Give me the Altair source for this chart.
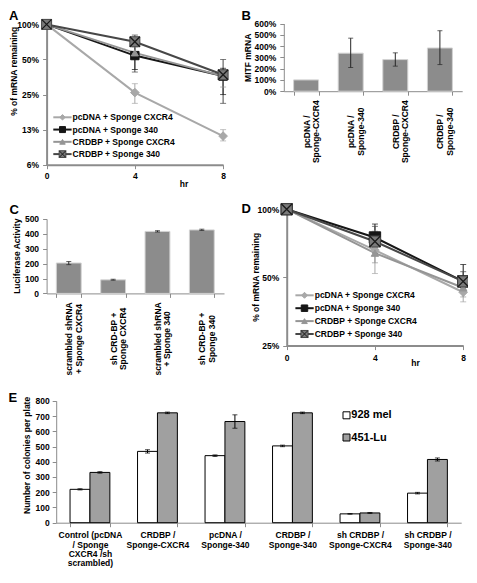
import altair as alt
import pandas as pd

FONT = "Liberation Sans"

# ---------------- Panels A / D : mRNA decay time courses ----------------
series = ["pcDNA + Sponge CXCR4", "pcDNA + Sponge 340",
          "CRDBP + Sponge CXCR4", "CRDBP + Sponge 340"]
hours = [0, 4, 8]

# Panel A values (% of mRNA remaining) and error-bar bounds
a_pcdna_cxcr4 = [100, 26, 11]
a_pcdna_340 = [100, 54, 36]
a_crdbp_cxcr4 = [100, 57, 36]
a_crdbp_340 = [100, 71, 37]
a_pcdna_cxcr4_lo = [None, 21, 10]
a_pcdna_cxcr4_hi = [None, 31, 12.5]
a_pcdna_340_lo = [None, 41, 25]
a_pcdna_340_hi = [None, 66, 42]
a_crdbp_cxcr4_lo = [None, 50, 29]
a_crdbp_cxcr4_hi = [None, 64, 40]
a_crdbp_340_lo = [None, 39, 21]
a_crdbp_340_hi = [None, 81, 50]

# Panel D values and error-bar bounds
d_pcdna_cxcr4 = [100, 66, 43]
d_pcdna_340 = [100, 75, 48]
d_crdbp_cxcr4 = [100, 64, 45]
d_crdbp_340 = [100, 72, 48]
d_pcdna_cxcr4_lo = [None, 52, 39]
d_pcdna_cxcr4_hi = [None, 80, 47]
d_pcdna_340_lo = [None, 68, 45]
d_pcdna_340_hi = [None, 86, 57]
d_crdbp_cxcr4_lo = [None, 58, 41]
d_crdbp_cxcr4_hi = [None, 70, 49]
d_crdbp_340_lo = [None, 64, 44]
d_crdbp_340_hi = [None, 84, 53]

# ---------------- Panel B : MITF mRNA ----------------
b_categories = ["pcDNA /|Sponge-CXCR4", "pcDNA /|Sponge-340",
                "CRDBP /|Sponge-CXCR4", "CRDBP /|Sponge-340"]
b_values = [100, 337, 280, 383]
b_err_lo = [None, 210, 222, 236]
b_err_hi = [None, 470, 340, 536]

# ---------------- Panel C : Luciferase ----------------
c_categories = ["scrambled shRNA|+ Sponge CXCR4", "sh CRD-BP +|Sponge CXCR4",
                "scrambled shRNA|+ Sponge 340", "sh CRD-BP +|Sponge 340"]
c_values = [204, 91, 416, 426]
c_err_lo = [193, 88, 412, 422]
c_err_hi = [214, 95, 421, 431]

# ---------------- Panel E : colonies ----------------
e_groups = ["Control (pcDNA|/ Sponge|CXCR4 /sh|scrambled)", "CRDBP /|Sponge-CXCR4",
            "pcDNA /|Sponge-340", "CRDBP /|Sponge-340",
            "sh CRDBP /|Sponge-CXCR4", "sh CRDBP /|Sponge-340"]
e_lines = ["928 mel", "451-Lu"]
e_928 = [219, 468, 440, 504, 58, 194]
e_451 = [330, 721, 664, 721, 64, 415]
e_928_err = [4, 11, 5, 5, 2, 5]
e_451_err = [5, 5, 44, 5, 3, 10]

# ---------------- styles / layout ----------------
colors = ["#a8a8a8", "#161616", "#959595", "#474747"]
fills = ["#a8a8a8", "#161616", "#959595", "#7a7a7a"]
shapes = ["diamond", "square", "triangle-up", "square"]
XPATH = "M-1,-1L1,1M1,-1L-1,1"
AXIS_GREY = "#8c8c8c"
LBL = 8.5
W, H = 460, 564
SX, SY = W / 477, H / 583


def cx(v):
    return round(v * SX, 1)


def cy(v):
    return round(v * SY, 1)


def tc_frame(vals, los, his):
    rows = []
    for s, v, lo, hi in zip(series, vals, los, his):
        for t, y, l, u in zip(hours, v, lo, hi):
            rows.append({"series": s, "hr": t, "pct": y, "lo": l, "hi": u})
    return pd.DataFrame(rows)


def letter_layer(letter, x, y):
    return alt.Chart(pd.DataFrame({"t": [letter]})).mark_text(
        align="left", baseline="alphabetic", fontSize=13, fontWeight="bold",
        font=FONT, color="black").encode(x=alt.value(cx(x)), y=alt.value(cy(y)), text="t:N")


def timecourse(df, rect, ydom, yvals, msz, lsz, leg_rows, leg_x, ttl, hr,
               letter, let_xy, xlabpad):
    x0, x1, yt, yb = rect
    color = alt.Color("series:N", scale=alt.Scale(domain=series, range=colors), legend=None)
    xaxis = alt.Axis(orient="bottom", offset=cy(yb) - H, values=hours, format="d",
                     labelFlush=False, tickSize=4, labelPadding=xlabpad, domainWidth=2,
                     title="hr", titleX=cx(hr[0]), titleY=hr[1], titleAlign="center",
                     titleBaseline="alphabetic", titleAnchor="start")
    xs = alt.Scale(domain=[0, 8], nice=False, zero=False, range=[cx(x0), cx(x1)])
    ys = alt.Scale(type="log", base=2, domain=ydom, nice=False, range=[cy(yb), cy(yt)])
    yaxis = alt.Axis(orient="left", offset=-cx(x0), values=yvals,
                     labelExpr="format(datum.value, '.0f') + '%'",
                     labelOverlap=False, tickSize=4, labelPadding=4, domainWidth=2,
                     title="% of mRNA remaining", titleX=ttl[0], titleY=cy(ttl[1]),
                     titleAngle=270, titleAlign="center", titleBaseline="middle")

    def X():
        return alt.X("hr:Q", scale=xs, axis=xaxis)

    def Y(f):
        return alt.Y(f, scale=ys, axis=yaxis)

    base = alt.Chart(df)
    lines = base.mark_line(strokeWidth=2).encode(x=X(), y=Y("pct:Q"), color=color)
    errs = base.transform_filter("isValid(datum.lo)")
    err_rule = errs.mark_rule(strokeWidth=1).encode(x=X(), y=Y("lo:Q"), y2="hi:Q", color=color)
    cap_lo = errs.mark_tick(orient="horizontal", size=6, thickness=1).encode(
        x=X(), y=Y("lo:Q"), color=color)
    cap_hi = errs.mark_tick(orient="horizontal", size=6, thickness=1).encode(
        x=X(), y=Y("hi:Q"), color=color)
    pts = []
    for s, shp, f, c, sz in zip(series, shapes, fills, colors, msz):
        pts.append(base.transform_filter(alt.datum.series == s).mark_point(
            shape=shp, filled=True, fill=f, stroke=c, strokeWidth=1, size=sz,
            opacity=1).encode(x=X(), y=Y("pct:Q")))
    xo = base.transform_filter(alt.datum.series == series[3]).mark_point(
        shape=XPATH, filled=False, stroke="#1a1a1a", strokeWidth=1.3, size=msz[3],
        opacity=1).encode(x=X(), y=Y("pct:Q"))
    main = alt.layer(lines, err_rule, cap_lo, cap_hi, *pts, xo)

    # in-plot legend
    ldf = pd.DataFrame({"series": series})
    ly = alt.Y("series:N", scale=alt.Scale(type="point", domain=series,
                                           range=[cy(leg_rows[0]), cy(leg_rows[1])],
                                           padding=0), axis=None)
    lb = alt.Chart(ldf)
    lrule = lb.mark_rule(strokeWidth=2).encode(
        x=alt.value(cx(leg_x)), x2=alt.value(cx(leg_x + 19)), y=ly, color=color)
    lpts = []
    for s, shp, f, c, sz in zip(series, shapes, fills, colors, lsz):
        lpts.append(lb.transform_filter(alt.datum.series == s).mark_point(
            shape=shp, filled=True, fill=f, stroke=c, strokeWidth=1, size=sz,
            opacity=1).encode(x=alt.value(cx(leg_x + 9.5)), y=ly))
    lxo = lb.transform_filter(alt.datum.series == series[3]).mark_point(
        shape=XPATH, filled=False, stroke="#1a1a1a", strokeWidth=1, size=lsz[3],
        opacity=1).encode(x=alt.value(cx(leg_x + 9.5)), y=ly)
    ltext = lb.mark_text(align="left", baseline="middle", fontSize=LBL, fontWeight="bold",
                         font=FONT, color="black").encode(
        x=alt.value(cx(leg_x + 20)), y=ly, text="series:N")
    legend = alt.layer(lrule, *lpts, lxo, ltext, letter_layer(letter, *let_xy))
    return alt.layer(main, legend).resolve_scale(y="independent")


def bar_panel(cats, vals, lo, hi, rect, ydom, ystep, ytitle, ttl, suffix,
              labpad, letter, let_xy):
    x0, x1, yt, yb = rect
    df = pd.DataFrame({"cat": cats, "val": vals, "lo": lo, "hi": hi})
    xax = alt.Axis(orient="bottom", offset=cy(yb) - H, title=None,
                   labelExpr="split(datum.label, '|')", labelAngle=270,
                   labelAlign="center", labelBaseline="middle", labelPadding=labpad,
                   labelLineHeight=9.5, tickBand="extent", tickSize=4, domainWidth=1)
    x = alt.X("cat:N", sort=cats, axis=xax,
              scale=alt.Scale(paddingInner=0.44, paddingOuter=0.22, range=[cx(x0), cx(x1)]))
    lexpr = "datum.value + '%'" if suffix else "datum.value"
    yax = alt.Axis(orient="left", offset=-cx(x0),
                   values=list(range(ydom[0], ydom[1] + 1, ystep)), labelExpr=lexpr,
                   tickSize=4, labelPadding=4, title=ytitle, titleX=ttl[0],
                   titleY=cy(ttl[1]), titleAngle=270, titleAlign="center",
                   titleBaseline="middle", domainWidth=1)
    ys = alt.Scale(domain=list(ydom), nice=False, range=[cy(yb), cy(yt)])
    base = alt.Chart(df)
    bars = base.mark_bar(color="#8c8c8c", stroke="#d2d2d2", strokeWidth=1).encode(
        x=x, y=alt.Y("val:Q", scale=ys, axis=yax))
    eb = base.transform_filter("isValid(datum.lo)")
    rule = eb.mark_rule(color="#262626", strokeWidth=1).encode(
        x=x, y=alt.Y("lo:Q", scale=ys, axis=yax), y2="hi:Q")
    c1 = eb.mark_tick(orient="horizontal", color="#262626", size=5, thickness=1).encode(
        x=x, y=alt.Y("lo:Q", scale=ys, axis=yax))
    c2 = eb.mark_tick(orient="horizontal", color="#262626", size=5, thickness=1).encode(
        x=x, y=alt.Y("hi:Q", scale=ys, axis=yax))
    return alt.layer(bars, rule, c1, c2, letter_layer(letter, *let_xy))


# ---- build panels (rects: x-left, x-right, y-top, y-bottom of each plot, reference px) ----
dfA = tc_frame([a_pcdna_cxcr4, a_pcdna_340, a_crdbp_cxcr4, a_crdbp_340],
               [a_pcdna_cxcr4_lo, a_pcdna_340_lo, a_crdbp_cxcr4_lo, a_crdbp_340_lo],
               [a_pcdna_cxcr4_hi, a_pcdna_340_hi, a_crdbp_cxcr4_hi, a_crdbp_340_hi])
dfD = tc_frame([d_pcdna_cxcr4, d_pcdna_340, d_crdbp_cxcr4, d_crdbp_340],
               [d_pcdna_cxcr4_lo, d_pcdna_340_lo, d_crdbp_cxcr4_lo, d_crdbp_340_lo],
               [d_pcdna_cxcr4_hi, d_pcdna_340_hi, d_crdbp_cxcr4_hi, d_crdbp_340_hi])

chartA = timecourse(dfA, (40, 223, 17, 162), [6.25, 100], [6.25, 12.5, 25, 50, 100],
                    [75, 70, 50, 100], [30, 36, 30, 45], (113, 151), 47,
                    (-33, 65), (182, 22), "A", (1, 12.5), 3)
chartD = timecourse(dfD, (289, 472, 208, 349), [25, 100], [25, 50, 100],
                    [75, 130, 55, 120], [36, 42, 32, 50], (297, 337), 298,
                    (-31, 278), (422, 20), "D", (242, 212), 4)

chartB = bar_panel(b_categories, b_values, b_err_lo, b_err_hi, (286, 471, 16, 86),
                   (0, 600), 100, "MITF mRNA", (-36, 51), True, 36, "B", (242, 12.5))
chartC = bar_panel(c_categories, c_values, c_err_lo, c_err_hi, (40, 224, 218, 295),
                   (0, 500), 100, "Luciferase Activity", (-30, 256), False, 41, "C",
                   (1.5, 213))

# panel E: grouped bars
rows = []
for g, a, b, ea, eb_ in zip(e_groups, e_928, e_451, e_928_err, e_451_err):
    rows.append({"grp": g, "line": e_lines[0], "val": a, "lo": a - ea, "hi": a + ea})
    rows.append({"grp": g, "line": e_lines[1], "val": b, "lo": b - eb_, "hi": b + eb_})
dfE = pd.DataFrame(rows)
E_RECT = (50, 470, 406, 532)
exE = alt.X("grp:N", sort=e_groups,
            scale=alt.Scale(paddingInner=0.41, paddingOuter=0.205,
                            range=[cx(E_RECT[0]), cx(E_RECT[1])]),
            axis=alt.Axis(orient="bottom", offset=cy(E_RECT[3]) - H, title=None,
                          labelExpr="split(datum.label, '|')", labelAngle=0,
                          labelAlign="center", labelBaseline="top", labelPadding=4,
                          labelLineHeight=9.4, tickBand="extent", tickSize=4))
xoE = alt.XOffset("line:N", sort=e_lines, scale=alt.Scale(paddingInner=0, paddingOuter=0))
ysE = alt.Scale(domain=[0, 800], nice=False, range=[cy(E_RECT[3]), cy(E_RECT[2])])
yaxE = alt.Axis(orient="left", offset=-cx(E_RECT[0]), values=list(range(0, 801, 100)),
                tickSize=4, labelPadding=3, title="Number of colonies per plate",
                titleX=-30, titleY=cy(462), titleAngle=270, titleAlign="center",
                titleBaseline="middle")
fillE = alt.Fill("line:N", scale=alt.Scale(domain=e_lines, range=["white", "#a0a0a0"]),
                 legend=None)
baseE = alt.Chart(dfE)
barsE = baseE.mark_bar(stroke="black", strokeWidth=1).encode(
    x=exE, xOffset=xoE, y=alt.Y("val:Q", scale=ysE, axis=yaxE), fill=fillE)
ruleE = baseE.mark_rule(color="black", strokeWidth=1).encode(
    x=exE, xOffset=xoE, y=alt.Y("lo:Q", scale=ysE, axis=yaxE), y2="hi:Q")
capE1 = baseE.mark_tick(orient="horizontal", color="black", size=5, thickness=1).encode(
    x=exE, xOffset=xoE, y=alt.Y("lo:Q", scale=ysE, axis=yaxE))
capE2 = baseE.mark_tick(orient="horizontal", color="black", size=5, thickness=1).encode(
    x=exE, xOffset=xoE, y=alt.Y("hi:Q", scale=ysE, axis=yaxE))
mainE = alt.layer(barsE, ruleE, capE1, capE2)

# legend of E
ldfE = pd.DataFrame({"line": e_lines})
lyE = alt.Y("line:N", scale=alt.Scale(type="point", domain=e_lines,
                                      range=[cy(421), cy(444)], padding=0), axis=None)
lsqE = alt.Chart(ldfE).mark_point(shape="square", filled=True, size=49, stroke="black",
                                  strokeWidth=1, opacity=1).encode(
    x=alt.value(cx(351)), y=lyE, fill=fillE)
ltxE = alt.Chart(ldfE).mark_text(align="left", baseline="middle", fontSize=11,
                                 fontWeight="bold", font=FONT, color="black").encode(
    x=alt.value(cx(356)), y=lyE, text="line:N")
legE = alt.layer(lsqE, ltxE, letter_layer("E", 0.5, 407))
chartE = alt.layer(mainE, legE).resolve_scale(y="independent")

chart = alt.layer(chartA, chartB, chartC, chartD, chartE).resolve_scale(
    x="independent", y="independent"
).properties(
    width=W, height=H, padding=0, autosize=alt.AutoSizeParams(type="none")
).configure_view(stroke=None).configure_axis(
    labelFont=FONT, labelFontSize=LBL, labelFontWeight="bold", labelColor="black",
    titleFont=FONT, titleFontSize=LBL, titleFontWeight="bold", titleColor="black",
    domainColor=AXIS_GREY, tickColor=AXIS_GREY, grid=False
).configure_text(font=FONT)

chart.save("out.html", embed_options={"renderer": "svg", "actions": False})
